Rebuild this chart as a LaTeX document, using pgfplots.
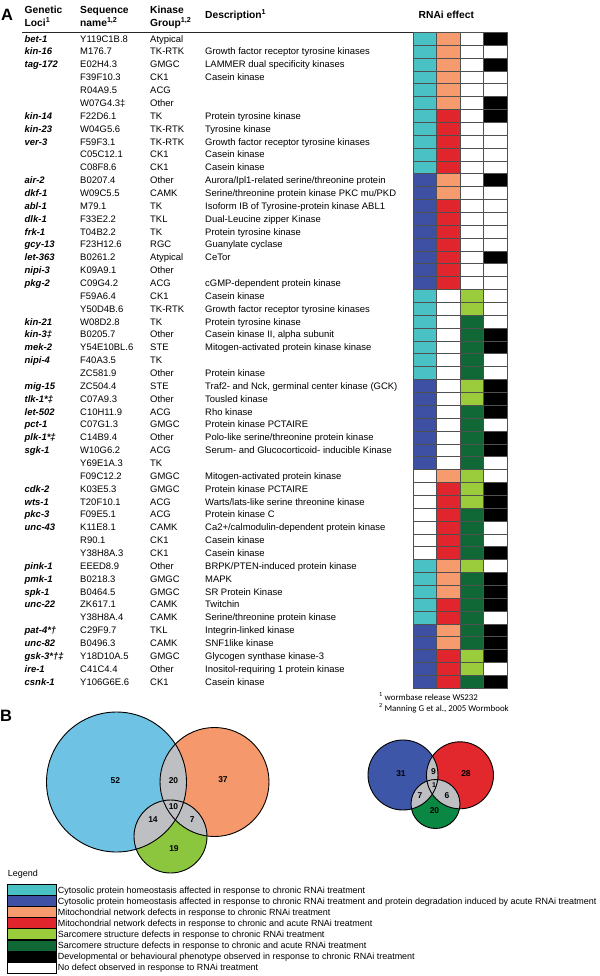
\documentclass[border=0pt]{standalone}
\usepackage{pgfplots}
\pgfplotsset{compat=1.18}
\usepackage{pgfplotstable}
\usepackage{fontspec}
\setmainfont{Liberation Sans}
\newfontfamily\calib{Carlito}

\definecolor{cyanC}{RGB}{74,194,197}
\definecolor{blueB}{RGB}{61,80,163}
\definecolor{orangeO}{RGB}{245,155,110}
\definecolor{redR}{RGB}{224,38,44}
\definecolor{lgreenG}{RGB}{155,204,59}
\definecolor{dgreenD}{RGB}{16,104,55}
\definecolor{cellgray}{RGB}{80,80,80}
\definecolor{vblue}{RGB}{110,194,227}
\definecolor{vorange}{RGB}{245,152,108}
\definecolor{vgreen}{RGB}{140,198,63}
\definecolor{vgray}{RGB}{190,191,194}
\definecolor{sblue}{RGB}{62,86,168}
\definecolor{sred}{RGB}{226,39,45}
\definecolor{sgreen}{RGB}{10,136,67}

\pgfdeclareplotmark{cell}{%
  \pgfpathrectangle{\pgfpoint{-11.7bp}{-6.43bp}}{\pgfpoint{23.4bp}{12.86bp}}%
  \pgfusepathqfillstroke}

\pgfplotstableread{
row c1 c2 c3 c4
1 C O W K
2 C O W W
3 C O W K
4 C O W W
5 C O W W
6 C O W K
7 C R W K
8 C R W W
9 C R W W
10 C R W W
11 C R W W
12 B O W K
13 B O W W
14 B R W W
15 B R W W
16 B R W W
17 B R W W
18 B R W K
19 B R W W
20 B R W W
21 C W G W
22 C W G W
23 C W D W
24 C W D K
25 C W D K
26 C W D W
27 C W D W
28 B W G K
29 B W G K
30 B W D K
31 B W D W
32 B W D K
33 B W D K
34 B W D W
35 W O G W
36 W R G K
37 W R G K
38 W R D K
39 W R D W
40 W R D W
41 W R D K
42 C O G W
43 C O D K
44 C O D K
45 C R D K
46 C R D W
47 B O D K
48 B O D K
49 B R G K
50 B R G W
51 B R D K
}\rnai

\tikzset{
  tx/.style={anchor=base west, inner sep=0pt, font=\fontsize{9.5}{10}\selectfont},
  lo/.style={anchor=base west, inner sep=0pt, font=\fontsize{9.5}{10}\selectfont\bfseries\itshape},
  hd/.style={anchor=base west, inner sep=0pt, font=\fontsize{10.3}{12}\selectfont\bfseries},
  lg/.style={anchor=base west, inner sep=0pt, font=\fontsize{9}{10}\selectfont},
  vn/.style={anchor=center, inner sep=0pt, font=\fontsize{8.5}{10}\selectfont\bfseries},
  cst/.style={mark=cell, draw=cellgray, line width=0.9bp},
}

\newcommand\R[5]{%
  \node[lo] at (axis cs:24.5,{32.3+(#1-0.5)*12.86+3.4}) {#2};
  \node[tx] at (axis cs:80,{32.3+(#1-0.5)*12.86+3.4}) {#3};
  \node[tx] at (axis cs:150,{32.3+(#1-0.5)*12.86+3.4}) {#4};
  \node[tx] at (axis cs:205,{32.3+(#1-0.5)*12.86+3.4}) {#5};}

\newcommand\LG[3]{%
  \filldraw[fill=#2, draw=black, line width=1.1bp] (axis cs:7.7,{884.5+11.1*#1}) rectangle (axis cs:56.5,{895.6+11.1*#1});
  \node[lg] at (axis cs:57.7,{890+11.1*#1+3.2}) {#3};}

\begin{document}
\begin{tikzpicture}
\begin{axis}[at={(0,0)}, anchor=south west, scale only axis,
  width=600bp, height=976bp, xmin=0, xmax=600, ymin=0, ymax=976,
  y dir=reverse, hide axis, clip=false]
% panel labels
\node[anchor=base west, inner sep=0pt, font=\fontsize{16.5}{18}\selectfont\bfseries] at (axis cs:1,20.8) {A};
\node[anchor=base west, inner sep=0pt, font=\fontsize{16.5}{18}\selectfont\bfseries] at (axis cs:0,721.7) {B};
% header
\node[hd] at (axis cs:24.5,13.3) {Genetic};
\node[hd] at (axis cs:24.5,26.2) {Loci\textsuperscript{1}};
\node[hd] at (axis cs:80,13.3) {Sequence};
\node[hd] at (axis cs:80,26.2) {name\textsuperscript{1,2}};
\node[hd] at (axis cs:150,13.3) {Kinase};
\node[hd] at (axis cs:150,26.2) {Group\textsuperscript{1,2}};
\node[hd] at (axis cs:205,18.5) {Description\textsuperscript{1}};
\node[hd] at (axis cs:418.5,18.3) {RNAi effect};
\draw[line width=0.9bp, black!85] (axis cs:22,32.3) -- (axis cs:507,32.3);
% rows
\R{1}{bet-1}{Y119C1B.8}{Atypical}{}
\R{2}{kin-16}{M176.7}{TK-RTK}{Growth factor receptor tyrosine kinases}
\R{3}{tag-172}{E02H4.3}{GMGC}{LAMMER dual specificity kinases}
\R{4}{}{F39F10.3}{CK1}{Casein kinase}
\R{5}{}{R04A9.5}{ACG}{}
\R{6}{}{W07G4.3‡}{Other}{}
\R{7}{kin-14}{F22D6.1}{TK}{Protein tyrosine kinase}
\R{8}{kin-23}{W04G5.6}{TK-RTK}{Tyrosine kinase}
\R{9}{ver-3}{F59F3.1}{TK-RTK}{Growth factor receptor tyrosine kinases}
\R{10}{}{C05C12.1}{CK1}{Casein kinase}
\R{11}{}{C08F8.6}{CK1}{Casein kinase}
\R{12}{air-2}{B0207.4}{Other}{Aurora/Ipl1-related serine/threonine protein}
\R{13}{dkf-1}{W09C5.5}{CAMK}{Serine/threonine protein kinase PKC mu/PKD}
\R{14}{abl-1}{M79.1}{TK}{Isoform IB of Tyrosine-protein kinase ABL1}
\R{15}{dlk-1}{F33E2.2}{TKL}{Dual-Leucine zipper Kinase}
\R{16}{frk-1}{T04B2.2}{TK}{Protein tyrosine kinase}
\R{17}{gcy-13}{F23H12.6}{RGC}{Guanylate cyclase}
\R{18}{let-363}{B0261.2}{Atypical}{CeTor}
\R{19}{nipi-3}{K09A9.1}{Other}{}
\R{20}{pkg-2}{C09G4.2}{ACG}{cGMP-dependent protein kinase}
\R{21}{}{F59A6.4}{CK1}{Casein kinase}
\R{22}{}{Y50D4B.6}{TK-RTK}{Growth factor receptor tyrosine kinases}
\R{23}{kin-21}{W08D2.8}{TK}{Protein tyrosine kinase}
\R{24}{kin-3‡}{B0205.7}{Other}{Casein kinase II, alpha subunit}
\R{25}{mek-2}{Y54E10BL.6}{STE}{Mitogen-activated protein kinase kinase}
\R{26}{nipi-4}{F40A3.5}{TK}{}
\R{27}{}{ZC581.9}{Other}{Protein kinase}
\R{28}{mig-15}{ZC504.4}{STE}{Traf2- and Nck, germinal center kinase (GCK)}
\R{29}{tlk-1*‡}{C07A9.3}{Other}{Tousled kinase}
\R{30}{let-502}{C10H11.9}{ACG}{Rho kinase}
\R{31}{pct-1}{C07G1.3}{GMGC}{Protein kinase PCTAIRE}
\R{32}{plk-1*‡}{C14B9.4}{Other}{Polo-like serine/threonine protein kinase}
\R{33}{sgk-1}{W10G6.2}{ACG}{Serum- and Glucocorticoid- inducible Kinase}
\R{34}{}{Y69E1A.3}{TK}{}
\R{35}{}{F09C12.2}{GMGC}{Mitogen-activated protein kinase}
\R{36}{cdk-2}{K03E5.3}{GMGC}{Protein kinase PCTAIRE}
\R{37}{wts-1}{T20F10.1}{ACG}{Warts/lats-like serine threonine kinase}
\R{38}{pkc-3}{F09E5.1}{ACG}{Protein kinase C}
\R{39}{unc-43}{K11E8.1}{CAMK}{Ca2+/calmodulin-dependent protein kinase}
\R{40}{}{R90.1}{CK1}{Casein kinase}
\R{41}{}{Y38H8A.3}{CK1}{Casein kinase}
\R{42}{pink-1}{EEED8.9}{Other}{BRPK/PTEN-induced protein kinase}
\R{43}{pmk-1}{B0218.3}{GMGC}{MAPK}
\R{44}{spk-1}{B0464.5}{GMGC}{SR Protein Kinase}
\R{45}{unc-22}{ZK617.1}{CAMK}{Twitchin}
\R{46}{}{Y38H8A.4}{CAMK}{Serine/threonine protein kinase}
\R{47}{pat-4*†}{C29F9.7}{TKL}{Integrin-linked kinase}
\R{48}{unc-82}{B0496.3}{CAMK}{SNF1like kinase}
\R{49}{gsk-3*†‡}{Y18D10A.5}{GMGC}{Glycogen synthase kinase-3}
\R{50}{ire-1}{C41C4.4}{Other}{Inositol-requiring 1 protein kinase}
\R{51}{csnk-1}{Y106G6E.6}{CK1}{Casein kinase}
% footnotes
\node[anchor=base west, inner sep=0pt, font=\calib\fontsize{8.9}{10}\selectfont] at (axis cs:378.8,700.3) {\textsuperscript{1} wormbase release WS232};
\node[anchor=base west, inner sep=0pt, font=\calib\fontsize{8.9}{10}\selectfont] at (axis cs:378.8,711.3) {\textsuperscript{2} Manning G et al., 2005 Wormbook};
% big Venn
\fill[vblue] (axis cs:116.5,782) circle[radius=70];
\fill[vorange] (axis cs:214.5,782) circle[radius=54.5];
\fill[vgreen] (axis cs:170.5,836.5) circle[radius=36.5];
\begin{scope}
 \clip (axis cs:116.5,782) circle[radius=70];
 \fill[vgray] (axis cs:214.5,782) circle[radius=54.5];
 \fill[vgray] (axis cs:170.5,836.5) circle[radius=36.5];
\end{scope}
\begin{scope}
 \clip (axis cs:214.5,782) circle[radius=54.5];
 \fill[vgray] (axis cs:170.5,836.5) circle[radius=36.5];
\end{scope}
\draw[line width=0.9bp] (axis cs:116.5,782) circle[radius=70];
\draw[line width=0.9bp] (axis cs:214.5,782) circle[radius=54.5];
\draw[line width=0.9bp] (axis cs:170.5,836.5) circle[radius=36.5];
\node[vn] at (axis cs:115.4,781) {52};
\node[vn] at (axis cs:173.5,781) {20};
\node[vn] at (axis cs:223,780) {37};
\node[vn] at (axis cs:173.5,807) {10};
\node[vn] at (axis cs:153,820) {14};
\node[vn] at (axis cs:192.3,820) {7};
\node[vn] at (axis cs:174,849) {19};
% small Venn
\fill[sblue] (axis cs:403,775) circle[radius=35];
\fill[sred] (axis cs:460,775.3) circle[radius=33.5];
\fill[sgreen] (axis cs:435.5,804) circle[radius=24.5];
\begin{scope}
 \clip (axis cs:403,775) circle[radius=35];
 \fill[vgray] (axis cs:460,775.3) circle[radius=33.5];
 \fill[vgray] (axis cs:435.5,804) circle[radius=24.5];
\end{scope}
\begin{scope}
 \clip (axis cs:460,775.3) circle[radius=33.5];
 \fill[vgray] (axis cs:435.5,804) circle[radius=24.5];
\end{scope}
\draw[line width=0.9bp] (axis cs:403,775) circle[radius=35];
\draw[line width=0.9bp] (axis cs:460,775.3) circle[radius=33.5];
\draw[line width=0.9bp] (axis cs:435.5,804) circle[radius=24.5];
\node[vn] at (axis cs:401,773.5) {31};
\node[vn] at (axis cs:433.5,772) {9};
\node[vn] at (axis cs:466,774) {28};
\node[vn, font=\fontsize{7}{8}\selectfont\bfseries] at (axis cs:434,785) {1};
\node[vn] at (axis cs:420,795.7) {7};
\node[vn] at (axis cs:447,796) {6};
\node[vn] at (axis cs:434.5,811) {20};
% legend
\node[anchor=base west, inner sep=0pt, font=\fontsize{9}{10}\selectfont] at (axis cs:7.7,876) {Legend};
\LG{0}{cyanC}{Cytosolic protein homeostasis affected in response to chronic RNAi treatment}
\LG{1}{blueB}{Cytosolic protein homeostasis affected in response to chronic RNAi treatment and protein degradation induced by acute RNAi treatment}
\LG{2}{orangeO}{Mitochondrial network defects in response to chronic RNAi treatment}
\LG{3}{redR}{Mitochondrial network defects in response to chronic and acute RNAi treatment}
\LG{4}{lgreenG}{Sarcomere structure defects in response to chronic RNAi treatment}
\LG{5}{dgreenD}{Sarcomere structure defects in response to chronic and acute RNAi treatment}
\LG{6}{black}{Developmental or behavioural phenotype observed in response to chronic RNAi treatment}
\LG{7}{white}{No defect observed in response to RNAi treatment}
\end{axis}

\begin{axis}[at={(413.5bp,287.7bp)}, anchor=south west, scale only axis,
  width=93.6bp, height=655.86bp, xmin=0.5, xmax=4.5, ymin=0.5, ymax=51.5,
  y dir=reverse, hide axis, clip=false,
  scatter/classes={
    W={cst, fill=white}, C={cst, fill=cyanC}, B={cst, fill=blueB},
    O={cst, fill=orangeO}, R={cst, fill=redR}, G={cst, fill=lgreenG},
    D={cst, fill=dgreenD}, K={cst, fill=black}}]
\addplot[scatter, only marks, scatter src=explicit symbolic] table[x expr=1, y=row, meta=c1] {\rnai};
\addplot[scatter, only marks, scatter src=explicit symbolic] table[x expr=2, y=row, meta=c2] {\rnai};
\addplot[scatter, only marks, scatter src=explicit symbolic] table[x expr=3, y=row, meta=c3] {\rnai};
\addplot[scatter, only marks, scatter src=explicit symbolic] table[x expr=4, y=row, meta=c4] {\rnai};
\draw[line width=1.3bp, black] (axis cs:0.5,0.5) rectangle (axis cs:4.5,51.5);
\end{axis}
\pgfresetboundingbox
\useasboundingbox (0,0) rectangle (600bp,976bp);
\end{tikzpicture}
\end{document}
